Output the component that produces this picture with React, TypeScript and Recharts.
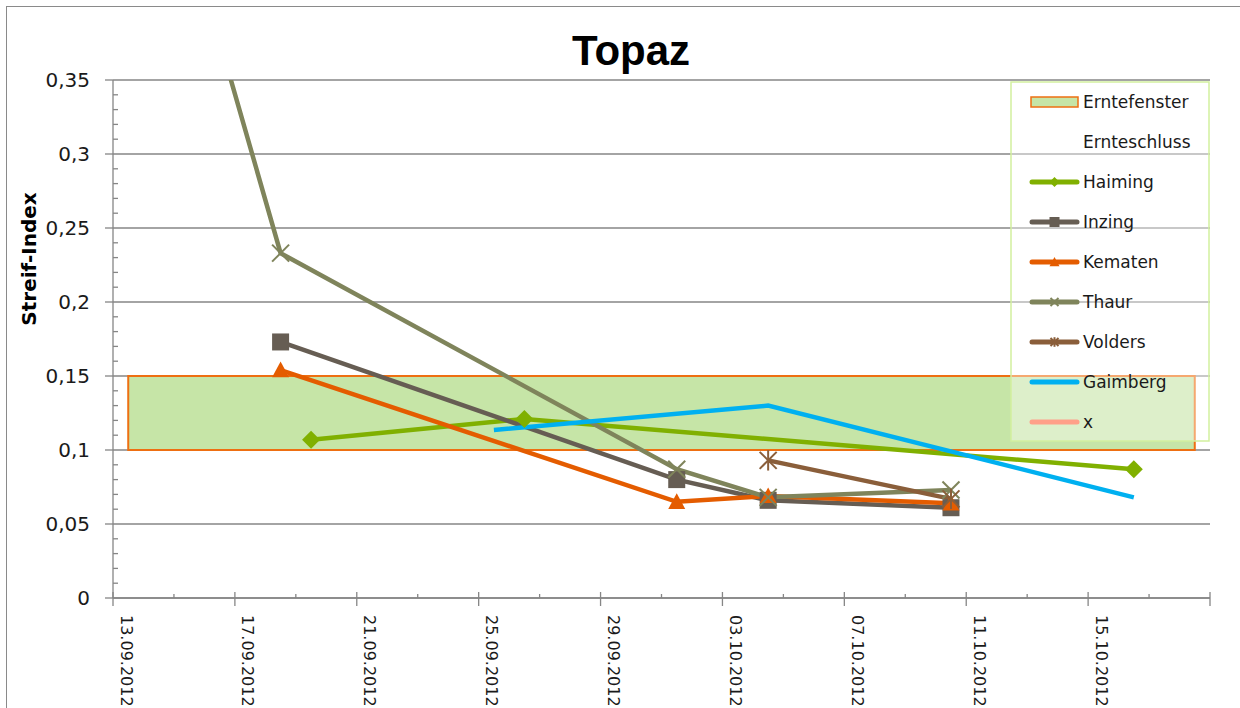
import React from 'react';
import { LineChart, Line, XAxis, YAxis, CartesianGrid, ReferenceArea } from 'recharts';

// measurement dates (dd.mm.yyyy) and Streif-Index per location, null = not measured
const dates = ['14.09.2012', '18.09.2012', '19.09.2012', '25.09.2012', '26.09.2012', '01.10.2012', '04.10.2012', '10.10.2012', '16.10.2012'];
const haiming = [null, null, 0.107, null, 0.121, null, null, null, 0.087];
const inzing = [null, 0.173, null, null, null, 0.080, 0.066, 0.061, null];
const kematen = [null, 0.154, null, null, null, 0.065, 0.069, 0.064, null];
const thaur = [0.52, 0.233, null, null, null, 0.087, 0.068, 0.073, null];
const volders = [null, null, null, null, null, null, 0.093, 0.067, null];
const gaimberg = [null, null, null, 0.1135, null, null, 0.13, null, 0.068];

// harvest window (Erntefenster)
const windowFrom = '13.09.2012';
const windowTo = '18.10.2012';
const windowLow = 0.1;
const windowHigh = 0.15;

const axisStart = '13.09.2012';
const axisEnd = '19.10.2012';
const tickLabels = ['13.09.2012', '17.09.2012', '21.09.2012', '25.09.2012', '29.09.2012', '03.10.2012', '07.10.2012', '11.10.2012', '15.10.2012'];
const yTicks = [0, 0.05, 0.1, 0.15, 0.2, 0.25, 0.3, 0.35];

const FONT = '"DejaVu Sans", sans-serif';
const AXIS = '#868686';

const parseDate = (s: string) => {
  const [d, m, y] = s.split('.').map(Number);
  return Date.UTC(y, m - 1, d);
};
const dayOf = (s: string) => Math.round((parseDate(s) - parseDate(axisStart)) / 86400000);

// excel places points between tick marks -> half a day offset
const rows = dates.map((d, i) => ({
  x: dayOf(d) + 0.5,
  Haiming: haiming[i],
  Inzing: inzing[i],
  Kematen: kematen[i],
  Thaur: thaur[i],
  Volders: volders[i],
  Gaimberg: gaimberg[i],
}));

const series = [
  { key: 'Haiming', color: '#80B000', marker: 'diamond' },
  { key: 'Inzing', color: '#665D53', marker: 'square' },
  { key: 'Kematen', color: '#E45C00', marker: 'triangle' },
  { key: 'Thaur', color: '#7F845B', marker: 'x' },
  { key: 'Volders', color: '#8A5E3A', marker: 'star' },
  { key: 'Gaimberg', color: '#00B0F0', marker: 'none' },
];

const xEnd = dayOf(axisEnd);
const xTicks: number[] = [];
for (let t = 0; t <= xEnd; t += 2) xTicks.push(t);
const labelAt = (v: number) => tickLabels.find((l) => dayOf(l) === v) || '';

const yMinor: number[] = [];
for (let i = 0; i <= 35; i++) yMinor.push(i / 100);

const Marker = ({ shape, x, y, color, r }: any) => {
  if (shape === 'diamond')
    return <polygon points={`${x},${y - r} ${x + r},${y} ${x},${y + r} ${x - r},${y}`} fill={color} />;
  if (shape === 'square')
    return <rect x={x - r} y={y - r} width={2 * r} height={2 * r} fill={color} />;
  if (shape === 'triangle')
    return <polygon points={`${x},${y - r} ${x + r},${y + r * 0.85} ${x - r},${y + r * 0.85}`} fill={color} />;
  if (shape === 'x')
    return (
      <g stroke={color} strokeWidth={2}>
        <line x1={x - r} y1={y - r} x2={x + r} y2={y + r} />
        <line x1={x - r} y1={y + r} x2={x + r} y2={y - r} />
      </g>
    );
  if (shape === 'star')
    return (
      <g stroke={color} strokeWidth={2}>
        <line x1={x - r} y1={y - r} x2={x + r} y2={y + r} />
        <line x1={x - r} y1={y + r} x2={x + r} y2={y - r} />
        <line x1={x} y1={y - r * 1.2} x2={x} y2={y + r * 1.2} />
      </g>
    );
  return null;
};

const makeDot = (shape: string, color: string, r: number) => (props: any) => {
  const { cx, cy, value, index } = props;
  const k = `${shape}-${index}`;
  if (value == null || cx == null || cy == null || Number.isNaN(cy)) return <g key={k} />;
  return (
    <g key={k}>
      <Marker shape={shape} x={cx} y={cy} color={color} r={shape === 'diamond' ? 9 : r} />
    </g>
  );
};

const XTick = ({ x, y, payload }: any) => {
  const v = payload.value;
  const major = v % 4 === 0;
  const label = labelAt(v);
  return (
    <g>
      {major ? (
        <line x1={x} x2={x} y1={y - 6} y2={y + 8} stroke={AXIS} strokeWidth={1.3} />
      ) : (
        <line x1={x} x2={x} y1={y - 4} y2={y} stroke={AXIS} strokeWidth={1.3} />
      )}
      {label && (
        <text
          transform={`translate(${x + 13},${y + 17}) rotate(90)`}
          fontSize={16}
          fontFamily={FONT}
          fill="#1a1a1a"
          dominantBaseline="central"
        >
          {label}
        </text>
      )}
    </g>
  );
};

const YTick = ({ x, y, payload }: any) => {
  const v = payload.value;
  const major = Math.abs(v * 20 - Math.round(v * 20)) < 1e-6;
  return (
    <g>
      {major ? (
        <line x1={x - 8} x2={x} y1={y} y2={y} stroke={AXIS} strokeWidth={1.3} />
      ) : (
        <line x1={x} x2={x + 5} y1={y} y2={y} stroke={AXIS} strokeWidth={1.3} />
      )}
      {major && (
        <text x={x - 23} y={y} textAnchor="end" dominantBaseline="central" fontSize={20} fontFamily={FONT} fill="#1a1a1a">
          {String(Math.round(v * 100) / 100).replace('.', ',')}
        </text>
      )}
    </g>
  );
};

const legendItems = [
  { name: 'Erntefenster', color: '', marker: 'area' },
  { name: 'Ernteschluss', color: '', marker: 'none-line' },
  ...series.map((s) => ({ name: s.key, color: s.color, marker: s.marker })),
  { name: 'x', color: '#FFA089', marker: 'none' },
];

const LegendBox = () => (
  <g>
    <rect x={1011} y={82} width={198} height={359} fill="rgba(255,255,255,0.4)" stroke="#D2F09E" strokeWidth={1.5} />
    {legendItems.map((it, i) => {
      const cy = 102 + i * 40;
      return (
        <g key={it.name}>
          {it.marker === 'area' && (
            <rect x={1031} y={cy - 5} width={47} height={10} fill="#C6E5A7" stroke="#EE6F12" strokeWidth={1.5} />
          )}
          {it.marker !== 'area' && it.marker !== 'none-line' && (
            <line x1={1032} x2={1077} y1={cy} y2={cy} stroke={it.color} strokeWidth={5} strokeLinecap="round" />
          )}
          {it.marker !== 'area' && it.marker !== 'none-line' && it.marker !== 'none' && (
            <Marker shape={it.marker} x={1054.5} y={cy} color={it.color} r={it.marker === 'x' || it.marker === 'star' ? 4 : 5} />
          )}
          <text x={1083} y={cy} dominantBaseline="central" fontSize={17} fontFamily={FONT} fill="#1a1a1a">
            {it.name}
          </text>
        </g>
      );
    })}
  </g>
);

export default function App() {
  return (
    <div style={{ position: 'fixed', left: 0, top: 0, width: 1240, height: 708, overflow: 'hidden', background: '#fff' }}>
      <div style={{ position: 'absolute', left: 6, top: 6, width: 1400, height: 900, borderLeft: '1.5px solid #8a8a8a', borderTop: '1.5px solid #8a8a8a' }} />
      <div style={{ position: 'absolute', left: 0, top: 0 }}>
        <LineChart width={1240} height={708} data={rows} margin={{ top: 80, right: 30, left: 0, bottom: 0 }}>
          <CartesianGrid
            horizontal
            vertical={false}
            horizontalValues={yTicks}
            stroke={AXIS}
            strokeWidth={1.3}
          />
          <XAxis
            dataKey="x"
            type="number"
            domain={[0, xEnd]}
            ticks={xTicks}
            interval={0}
            height={110}
            tickSize={0}
            tickMargin={0}
            tickLine={false}
            axisLine={{ stroke: AXIS, strokeWidth: 1.3 }}
            tick={<XTick />}
          />
          <YAxis
            type="number"
            domain={[0, 0.35]}
            ticks={yMinor}
            interval={0}
            allowDataOverflow
            width={113}
            tickSize={0}
            tickMargin={0}
            tickLine={false}
            axisLine={{ stroke: AXIS, strokeWidth: 1.3 }}
            tick={<YTick />}
          />
          <ReferenceArea
            x1={dayOf(windowFrom) + 0.5}
            x2={dayOf(windowTo) + 0.5}
            y1={windowLow}
            y2={windowHigh}
            fill="#C6E5A7"
            fillOpacity={1}
            stroke="#EE6F12"
            strokeWidth={2}
          />
          {series.map((s) => (
            <Line
              key={s.key}
              type="linear"
              dataKey={s.key}
              stroke={s.color}
              strokeWidth={4.5}
              connectNulls
              isAnimationActive={false}
              activeDot={false}
              dot={s.marker === 'none' ? false : makeDot(s.marker, s.color, 8.5)}
            />
          ))}
        </LineChart>
      </div>
      <svg width={1240} height={708} style={{ position: 'absolute', left: 0, top: 0, pointerEvents: 'none' }}>
        <text x={631} y={65} textAnchor="middle" fontSize={42} fontWeight="bold" fontFamily='"Liberation Sans", Arial, sans-serif' fill="#000">
          Topaz
        </text>
        <text
          transform="translate(29,259) rotate(-90)"
          textAnchor="middle"
          dominantBaseline="central"
          fontSize={20}
          fontWeight="bold"
          fontFamily={FONT}
          fill="#000"
        >
          Streif-Index
        </text>
        <LegendBox />
      </svg>
    </div>
  );
}
